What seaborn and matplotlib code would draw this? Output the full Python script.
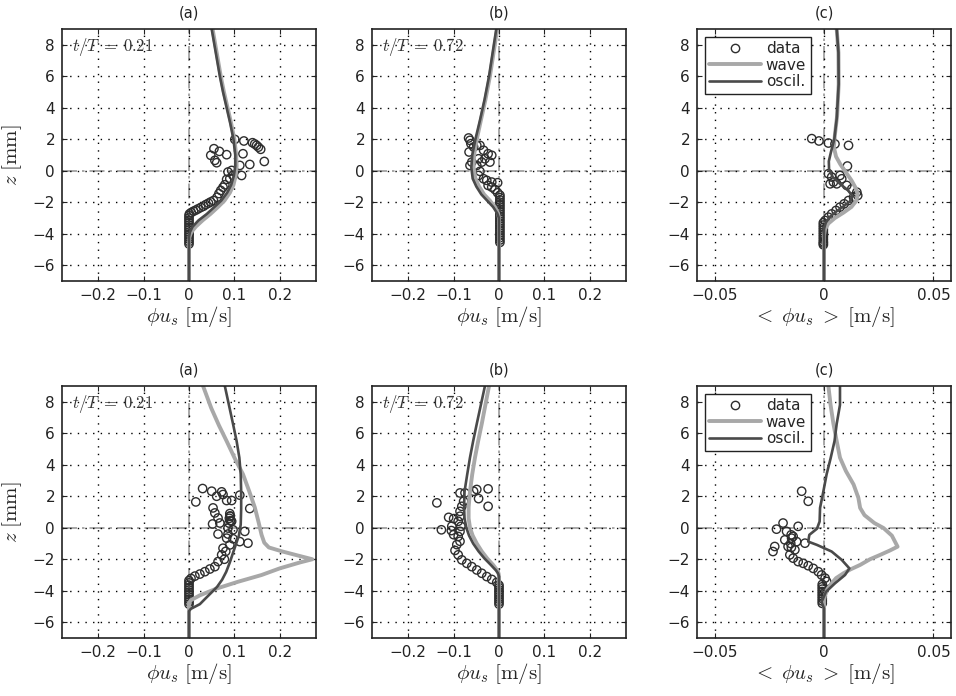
import matplotlib
matplotlib.use("Agg")
import matplotlib.pyplot as plt
from matplotlib.lines import Line2D
import seaborn as sns

# ---------------------------------------------------------------- data
# velocity profiles: u in m/s (panels a, b) or <u> in m/s (panel c), z in mm

# top row, t/T = 0.21
top_a_data_u = [0.101, 0.121, 0.140, 0.145, 0.149, 0.153, 0.158, 0.166, 0.119, 0.134,
                0.055, 0.048, 0.057, 0.061, 0.067, 0.083, 0.086, 0.094, 0.112, 0.116,
                0.097, 0.090, 0.083, 0.079, 0.075, 0.070, 0.066, 0.062, 0.054, 0.048,
                0.043, 0.037, 0.032, 0.026, 0.020, 0.015, 0.010, 0.005, 0.001,
                0.0, 0.0, 0.0, 0.0, 0.0, 0.0, 0.0, 0.0, 0.0, 0.0, 0.0, 0.0, 0.0]
top_a_data_z = [1.99, 1.89, 1.78, 1.70, 1.61, 1.50, 1.36, 0.59, 1.08, 0.40,
                1.40, 0.98, 0.66, 0.51, 1.23, 1.02, -0.08, 0.02, 0.34, -0.30,
                -0.30, -0.50, -0.55, -0.89, -1.05, -1.25, -1.45, -1.68, -1.89, -1.98,
                -2.06, -2.15, -2.25, -2.33, -2.42, -2.50, -2.57, -2.65, -2.74,
                -2.85, -3.0, -3.15, -3.3, -3.45, -3.6, -3.75, -3.9, -4.05, -4.2, -4.35, -4.5, -4.65]
top_a_wave_u = [0.052, 0.058, 0.064, 0.070, 0.077, 0.085, 0.093, 0.100, 0.104, 0.105, 0.103,
                0.098, 0.090, 0.078, 0.064, 0.047, 0.030, 0.015, 0.005, 0.001, 0.0, 0.0]
top_a_wave_z = [9.0, 8.0, 7.0, 6.0, 5.0, 4.0, 3.0, 2.0, 1.0, 0.3, -0.3,
                -0.9, -1.4, -1.9, -2.3, -2.75, -3.15, -3.55, -3.9, -4.2, -4.6, -7.0]
top_a_osc_u = [0.050, 0.056, 0.062, 0.068, 0.075, 0.083, 0.091, 0.098, 0.102, 0.102, 0.099,
               0.093, 0.084, 0.071, 0.056, 0.039, 0.021, 0.008, 0.002, 0.0, 0.0]
top_a_osc_z = [9.0, 8.0, 7.0, 6.0, 5.0, 4.0, 3.0, 2.0, 1.0, 0.3, -0.3,
               -0.9, -1.4, -1.9, -2.3, -2.75, -3.15, -3.55, -3.9, -4.2, -7.0]

# top row, t/T = 0.72
top_b_data_u = [-0.067, -0.064, -0.062, -0.066, -0.056, -0.049, -0.042, -0.034, -0.024, -0.016,
                -0.031, -0.045, -0.038, -0.020, -0.060, -0.064, -0.049, -0.042, -0.045, -0.034,
                -0.027, -0.016, -0.003, -0.024, -0.016, -0.009, -0.003,
                0.002, 0.002, 0.002, 0.002, 0.002, 0.002, 0.002, 0.002, 0.002, 0.002, 0.002,
                0.002, 0.002, 0.002, 0.002, 0.002, 0.002, 0.002, 0.002, 0.002, 0.002]
top_b_data_z = [2.08, 1.93, 1.72, 1.19, 1.51, 1.61, 1.61, 1.30, 1.08, 0.98,
                0.76, 0.76, 0.55, 0.55, 0.55, 0.34, 0.34, -0.04, -0.30, -0.51,
                -0.61, -0.72, -0.76, -0.93, -1.04, -1.19, -1.40,
                -1.55, -1.7, -1.85, -2.0, -2.15, -2.3, -2.45, -2.6, -2.75, -2.9, -3.05,
                -3.2, -3.35, -3.5, -3.65, -3.8, -3.95, -4.1, -4.25, -4.4, -4.55]
top_b_wave_u = [-0.004, -0.012, -0.020, -0.030, -0.040, -0.049, -0.055, -0.056, -0.052,
                -0.044, -0.033, -0.020, -0.009, -0.002, 0.0, 0.0]
top_b_wave_z = [9.0, 7.5, 6.0, 4.5, 3.2, 2.0, 1.0, 0.2, -0.5,
                -1.0, -1.5, -1.9, -2.3, -2.7, -3.0, -7.0]
top_b_osc_u = [-0.006, -0.014, -0.022, -0.032, -0.042, -0.052, -0.059, -0.061, -0.058,
               -0.050, -0.039, -0.026, -0.013, -0.004, 0.0, 0.0]
top_b_osc_z = [9.0, 7.5, 6.0, 4.5, 3.2, 2.0, 1.0, 0.2, -0.5,
               -1.0, -1.5, -1.9, -2.3, -2.7, -3.0, -7.0]

# top row, period average
top_c_data_u = [-0.0056, -0.0023, 0.0020, 0.0050, 0.0112, 0.0107, 0.0020, 0.0035, 0.0043,
                0.0073, 0.0081, 0.0058, 0.0028, 0.0104, 0.0127, 0.0150, 0.0154, 0.0135,
                0.0112, 0.0092, 0.0073, 0.0055, 0.0035, 0.0020, 0.0005,
                -0.0003, -0.0003, -0.0003, -0.0003, -0.0003, -0.0003, -0.0003, -0.0003,
                -0.0003, -0.0003, -0.0003]
top_c_data_z = [2.04, 1.89, 1.76, 1.70, 1.61, 0.30, -0.19, -0.40, -0.72,
                -0.30, -0.51, -0.83, -0.83, -0.93, -1.15, -1.36, -1.57, -1.68,
                -1.89, -2.10, -2.31, -2.52, -2.74, -2.95, -3.16,
                -3.3, -3.45, -3.6, -3.75, -3.9, -4.05, -4.2, -4.35,
                -4.5, -4.6, -4.7]
top_c_wave_u = [0.0058, 0.0066, 0.0067, 0.0060, 0.0050, 0.0045, 0.0055, 0.0075, 0.0100,
                0.0125, 0.0145, 0.0154, 0.0148, 0.0125, 0.0090, 0.0050, 0.0020, 0.0005, 0.0, 0.0]
top_c_wave_z = [9.0, 7.5, 5.5, 3.5, 2.3, 1.5, 0.9, 0.4, -0.1,
                -0.6, -1.1, -1.5, -1.9, -2.3, -2.65, -3.0, -3.35, -3.7, -4.1, -7.0]
top_c_osc_u = [0.0058, 0.0066, 0.0067, 0.0058, 0.0047, 0.0032, 0.0022, 0.0023, 0.0040,
               0.0075, 0.0110, 0.0130, 0.0118, 0.0090, 0.0055, 0.0025, 0.0008, 0.0, 0.0]
top_c_osc_z = [9.0, 7.5, 5.5, 3.3, 2.0, 1.2, 0.6, 0.1, -0.4,
               -0.85, -1.25, -1.6, -1.95, -2.25, -2.6, -2.95, -3.3, -3.7, -7.0]

# bottom row, t/T = 0.21
bot_a_data_u = [0.030, 0.050, 0.072, 0.015, 0.061, 0.075, 0.083, 0.094, 0.112, 0.134,
                0.053, 0.057, 0.064, 0.052, 0.068, 0.090, 0.094, 0.086, 0.097, 0.123,
                0.064, 0.083, 0.097, 0.130, 0.112, 0.090, 0.075, 0.072, 0.064, 0.057,
                0.046, 0.035, 0.024, 0.013, 0.0044,
                0.090, 0.091, 0.089, 0.091, 0.088, 0.086, 0.081, 0.078,
                0.0, 0.0, 0.0, 0.0, 0.0, 0.0, 0.0, 0.0, 0.0, 0.0, 0.0]
bot_a_data_z = [2.49, 2.32, 2.28, 1.64, 2.00, 2.11, 1.73, 1.73, 2.07, 1.22,
                1.26, 0.94, 0.62, 0.24, 0.30, 0.73, 0.41, -0.02, -0.13, -0.23,
                -0.40, -0.66, -0.70, -0.98, -0.88, -1.09, -1.30, -1.72, -2.15, -2.47,
                -2.62, -2.79, -2.94, -3.07, -3.22,
                0.90, 0.75, 0.60, 0.45, 0.30, -0.40, -1.50, -2.00,
                -3.35, -3.5, -3.65, -3.8, -3.95, -4.1, -4.25, -4.4, -4.55, -4.7, -4.85]
bot_a_wave_u = [0.031, 0.049, 0.066, 0.083, 0.101, 0.119, 0.133, 0.145, 0.153, 0.160, 0.166,
                0.176, 0.205, 0.245, 0.272, 0.245, 0.200, 0.160, 0.108, 0.061, 0.024,
                0.004, 0.0, 0.0]
bot_a_wave_z = [9.0, 7.6, 6.5, 5.5, 4.4, 3.4, 2.3, 1.3, 0.4, -0.45, -0.95,
                -1.25, -1.5, -1.8, -2.0, -2.2, -2.58, -3.0, -3.43, -3.86, -4.29,
                -4.6, -4.8, -7.0]
bot_a_osc_u = [0.079, 0.088, 0.097, 0.105, 0.111, 0.114, 0.115, 0.115, 0.114, 0.110, 0.104,
               0.097, 0.090, 0.082, 0.073, 0.062, 0.050, 0.036, 0.024, 0.004, 0.0, 0.0]
bot_a_osc_z = [9.0, 7.8, 6.6, 5.5, 4.45, 3.4, 2.3, 1.2, 0.2, -0.5, -1.0,
               -1.6, -2.2, -2.8, -3.3, -3.75, -4.1, -4.5, -4.85, -5.15, -5.3, -7.0]

# bottom row, t/T = 0.72
bot_b_data_u = [-0.137, -0.127, -0.111, -0.100, -0.104, -0.105, -0.100, -0.086, -0.075,
                -0.056, -0.049, -0.045, -0.024, -0.024, -0.078, -0.082,
                -0.086, -0.086, -0.090, -0.084, -0.086, -0.090, -0.086, -0.093, -0.097,
                -0.090, -0.082, -0.071, -0.060, -0.049, -0.038, -0.027, -0.016, -0.005,
                0.0, 0.0, 0.0, 0.0, 0.0, 0.0, 0.0, 0.0, 0.0]
bot_b_data_z = [1.58, -0.13, 0.66, 0.58, 0.10, -0.18, -0.44, 2.21, 2.21,
                2.32, 2.43, 1.85, 2.47, 1.36, 1.68, 1.36,
                1.04, 0.73, 0.41, 0.09, -0.23, -0.55, -0.86, -1.07, -1.44,
                -1.72, -2.04, -2.26, -2.47, -2.68, -2.89, -3.10, -3.28, -3.47,
                -3.65, -3.8, -3.95, -4.1, -4.25, -4.4, -4.55, -4.7, -4.85]
bot_b_wave_u = [-0.022, -0.030, -0.038, -0.046, -0.053, -0.059, -0.064, -0.067, -0.067,
                -0.064, -0.058, -0.049, -0.038, -0.026, -0.013, -0.004, -0.001, 0.0, 0.0]
bot_b_wave_z = [9.0, 7.8, 6.6, 5.5, 4.45, 3.4, 2.3, 1.3, 0.6,
                0.0, -0.5, -1.0, -1.5, -1.95, -2.36, -2.7, -2.9, -3.1, -7.0]
bot_b_osc_u = [-0.031, -0.040, -0.049, -0.057, -0.064, -0.070, -0.076, -0.077, -0.076,
               -0.072, -0.066, -0.057, -0.045, -0.032, -0.018, -0.007, -0.002, 0.0, 0.0]
bot_b_osc_z = [9.0, 7.8, 6.6, 5.5, 4.45, 3.4, 2.3, 1.3, 0.6,
               0.0, -0.5, -1.0, -1.5, -1.95, -2.36, -2.7, -2.9, -3.1, -7.0]

# bottom row, period average
bot_c_data_u = [-0.0102, -0.0072, -0.0187, -0.0217, -0.0171, -0.0118, -0.0141, -0.0125,
                -0.0179, -0.0225, -0.0164, -0.0087, -0.0133, -0.0156, -0.0141, -0.0118,
                -0.0095, -0.0072, -0.0049, -0.0026, -0.0011, 0.0005, 0.0012,
                -0.0233, -0.0148, -0.0150, -0.0152, -0.0149,
                -0.0008, -0.0008, -0.0008, -0.0008, -0.0008, -0.0008, -0.0008, -0.0008, -0.0008]
bot_c_data_z = [2.32, 1.68, 0.30, -0.09, -0.23, 0.09, -0.55, -0.88,
                -0.77, -1.19, -1.19, -0.98, -1.40, -1.72, -1.93, -2.15,
                -2.26, -2.41, -2.58, -2.79, -3.00, -3.20, -3.41,
                -1.51, -0.66, -0.45, -1.0, -1.25,
                -3.6, -3.75, -3.9, -4.05, -4.2, -4.35, -4.5, -4.65, -4.8]
bot_c_wave_u = [0.0020, 0.0030, 0.0043, 0.0058, 0.0073, 0.0100, 0.0135, 0.0157, 0.0165,
                0.0185, 0.0230, 0.0272, 0.0310, 0.0336, 0.0300, 0.0257, 0.0210, 0.0165,
                0.0120, 0.0089, 0.0055, 0.0035, 0.0015, 0.0005, 0.0, 0.0]
bot_c_wave_z = [9.0, 7.8, 6.6, 5.5, 4.45, 3.6, 2.75, 1.9, 1.26,
                0.8, 0.3, -0.02, -0.5, -1.2, -1.45, -1.72, -2.0, -2.36,
                -2.65, -2.89, -3.2, -3.53, -3.9, -4.28, -4.6, -7.0]
bot_c_osc_u = [0.0073, 0.0073, 0.0058, 0.0048, 0.0030, 0.0012, -0.0003, -0.0018, -0.0020,
               -0.0032, -0.0067, -0.0072, -0.0032, 0.0035, 0.0081, 0.0116, 0.0096, 0.0050,
               0.0009, -0.0011, 0.0, 0.0]
bot_c_osc_z = [9.0, 7.8, 6.6, 5.5, 4.4, 3.4, 2.3, 1.26, 0.4,
               -0.06, -0.45, -0.88, -1.09, -1.51, -2.04, -2.58, -3.0, -3.53,
               -4.07, -4.7, -5.13, -7.0]

panel_titles = ["(a)", "(b)", "(c)"]
phase_labels = [r"$t/T\;=\;0.21$", r"$t/T\;=\;0.72$"]
legend_labels = ["data", "wave", "oscil."]
uv_ticks = [-0.2, -0.1, 0.0, 0.1, 0.2]
uv_ticklabels = ["\u22120.2", "\u22120.1", "0", "0.1", "0.2"]
avg_ticks = [-0.05, 0.0, 0.05]
avg_ticklabels = ["\u22120.05", "0", "0.05"]
z_ticks = [-6, -4, -2, 0, 2, 4, 6, 8]
z_ticklabels = ["\u22126", "\u22124", "\u22122", "0", "2", "4", "6", "8"]

# ---------------------------------------------------------------- style
sns.set_theme(style="white")
plt.rcParams.update({
    "font.family": ["DejaVu Sans"],
    "mathtext.fontset": "cm",
    "xtick.direction": "in",
    "ytick.direction": "in",
    "xtick.top": True,
    "ytick.right": True,
    "xtick.bottom": True,
    "ytick.left": True,
    "xtick.major.size": 3.5,
    "ytick.major.size": 3.5,
    "xtick.major.width": 0.8,
    "ytick.major.width": 0.8,
    "xtick.color": "#222222",
    "ytick.color": "#222222",
    "xtick.labelcolor": "#222222",
    "ytick.labelcolor": "#222222",
    "axes.edgecolor": "#222222",
    "axes.linewidth": 1.2,
})

WAVE_C = "#a8a8a8"
OSC_C = "#4a4a4a"
DATA_C = "#2e2e2e"
ZERO_C = "#9a9a9a"

fig = plt.figure(figsize=(9.56, 6.96), dpi=100)
W, H = 956.0, 696.0
col_left = [62, 372, 697]
col_width = 254
rows = [(29, 281), (386, 638)]


def panel(ax, du, dz, wu, wz, ou, oz, averaged):
    ax.axvline(0, color=ZERO_C, lw=1.2, ls=(0, (9, 3, 1.5, 3)), zorder=1)
    ax.axhline(0, color=ZERO_C, lw=1.2, ls=(0, (9, 3, 1.5, 3)), zorder=1)
    sns.scatterplot(x=du, y=dz, ax=ax, marker="o", s=36, facecolors="none",
                    edgecolors=DATA_C, linewidths=1.0, zorder=3, legend=False)
    sns.lineplot(x=wu, y=wz, ax=ax, sort=False, estimator=None, color=WAVE_C,
                 lw=2.8, zorder=4)
    sns.lineplot(x=ou, y=oz, ax=ax, sort=False, estimator=None, color=OSC_C,
                 lw=1.9, zorder=5)
    if averaged:
        ax.set_xlim(-0.058, 0.058)
        ax.set_xticks(avg_ticks)
        ax.set_xticklabels(avg_ticklabels)
    else:
        ax.set_xlim(-0.28, 0.28)
        ax.set_xticks(uv_ticks)
        ax.set_xticklabels(uv_ticklabels)
    ax.set_ylim(-7, 9)
    ax.set_yticks(z_ticks)
    ax.set_yticklabels(z_ticklabels)
    ax.tick_params(labelsize=11, pad=5)
    ax.grid(True, color="black", lw=1.0, ls=(0, (1, 4.5)))
    ax.set_axisbelow(False)
    for sp in ax.spines.values():
        sp.set_zorder(6)


profiles = [
    [(top_a_data_u, top_a_data_z, top_a_wave_u, top_a_wave_z, top_a_osc_u, top_a_osc_z),
     (top_b_data_u, top_b_data_z, top_b_wave_u, top_b_wave_z, top_b_osc_u, top_b_osc_z),
     (top_c_data_u, top_c_data_z, top_c_wave_u, top_c_wave_z, top_c_osc_u, top_c_osc_z)],
    [(bot_a_data_u, bot_a_data_z, bot_a_wave_u, bot_a_wave_z, bot_a_osc_u, bot_a_osc_z),
     (bot_b_data_u, bot_b_data_z, bot_b_wave_u, bot_b_wave_z, bot_b_osc_u, bot_b_osc_z),
     (bot_c_data_u, bot_c_data_z, bot_c_wave_u, bot_c_wave_z, bot_c_osc_u, bot_c_osc_z)],
]

for r, (top_px, bot_px) in enumerate(rows):
    for c in range(3):
        rect = [col_left[c] / W, 1 - bot_px / H, col_width / W, (bot_px - top_px) / H]
        ax = fig.add_axes(rect)
        panel(ax, *profiles[r][c], averaged=(c == 2))
        ax.set_title(panel_titles[c], fontsize=10.5, pad=8, color="#222222")
        if c == 2:
            ax.set_xlabel(r"$<\;\phi u_s\;>\;[\mathrm{m/s}]$", fontsize=15, labelpad=1)
            handles = [
                Line2D([], [], ls="none", marker="o", mfc="none", mec=DATA_C, ms=6, mew=1.0),
                Line2D([], [], color=WAVE_C, lw=2.8),
                Line2D([], [], color=OSC_C, lw=1.9),
            ]
            leg = ax.legend(handles, legend_labels, loc="upper left", fontsize=11,
                            frameon=True, fancybox=False, edgecolor="#222222",
                            framealpha=1, handlelength=3.4, borderaxespad=0.5,
                            borderpad=0.3, labelspacing=0.1, handletextpad=0.3)
            leg.get_frame().set_linewidth(1.0)
            leg.set_zorder(7)
        else:
            ax.set_xlabel(r"$\phi u_s\ [\mathrm{m/s}]$", fontsize=15, labelpad=1)
            ax.text(0.04, 0.93, phase_labels[c], transform=ax.transAxes,
                    fontsize=12, va="center", ha="left", color="#333333", zorder=7)
        if c == 0:
            ax.set_ylabel(r"$z\ [\mathrm{mm}]$", fontsize=15, labelpad=6)
        else:
            ax.set_ylabel("")

fig.savefig("out.png", dpi=100)
